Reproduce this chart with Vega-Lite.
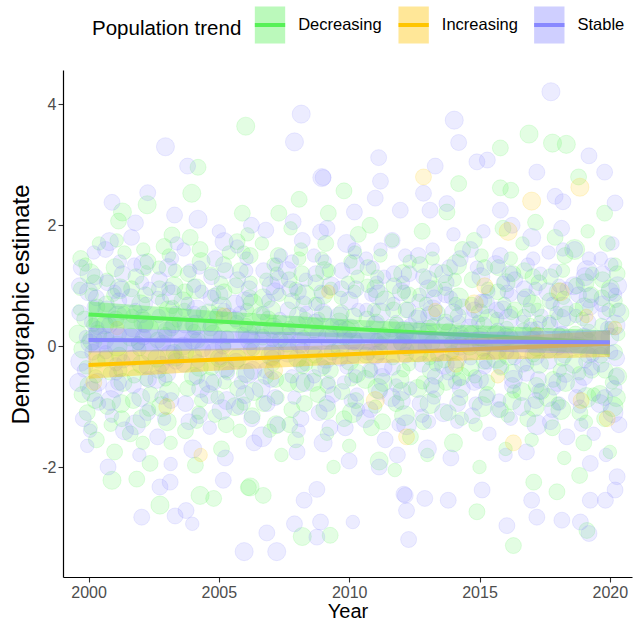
{
"$schema": "https://vega.github.io/schema/vega-lite/v6.json",
"width": 569, "height": 507,
"autosize": {"type": "none"},
"padding": {"left": 63, "top": 70, "right": 1, "bottom": 43},
"background": "white",
"datasets": {
"dec": [
{"yr":1999.7,"est":1.45,"sz":3},{"yr":2000.12,"est":0.85,"sz":2},{"yr":2000.35,"est":0.2,"sz":4},{"yr":1999.9,"est":-0.35,"sz":2},{"yr":2000.25,"est":-0.9,"sz":3},{"yr":1999.62,"est":0.6,"sz":1},{"yr":2000.05,"est":1.2,"sz":5},{"yr":2000.3,"est":-1.55,"sz":3},{"yr":1999.78,"est":-0.05,"sz":4},{"yr":2000.18,"est":0.35,"sz":2},{"yr":1999.95,"est":-1.1,"sz":3},{"yr":2000.4,"est":1.7,"sz":2},
{"yr":2001.15,"est":2.07,"sz":3},{"yr":2001.3,"est":2.22,"sz":4},{"yr":2000.9,"est":-2.22,"sz":4},{"yr":2001.85,"est":-2.2,"sz":3},{"yr":2000.7,"est":1.1,"sz":2},{"yr":2001.05,"est":0.45,"sz":3},{"yr":2001.32,"est":-0.6,"sz":4},{"yr":2000.85,"est":-1.3,"sz":2},{"yr":2001.2,"est":0.95,"sz":5},{"yr":2000.65,"est":-0.2,"sz":3},{"yr":2001.38,"est":1.55,"sz":2},{"yr":2001.0,"est":-1.75,"sz":3},{"yr":2000.78,"est":0.15,"sz":1},{"yr":2001.25,"est":-0.95,"sz":4},
{"yr":2002.25,"est":2.34,"sz":4},{"yr":2002.36,"est":-1.94,"sz":3},{"yr":2002.74,"est":-2.63,"sz":4},{"yr":2001.65,"est":0.95,"sz":3},{"yr":2002.1,"est":1.6,"sz":2},{"yr":2002.3,"est":0.3,"sz":5},{"yr":2001.75,"est":-0.5,"sz":2},{"yr":2002.05,"est":-1.2,"sz":4},{"yr":2002.38,"est":-0.8,"sz":3},{"yr":2001.9,"est":0.05,"sz":2},{"yr":2002.2,"est":1.25,"sz":1},{"yr":2001.6,"est":-1.45,"sz":3},{"yr":2002.0,"est":0.7,"sz":4},
{"yr":2003.2,"est":1.84,"sz":3},{"yr":2002.7,"est":1.3,"sz":2},{"yr":2003.05,"est":0.6,"sz":4},{"yr":2003.35,"est":-0.2,"sz":3},{"yr":2002.8,"est":-1.0,"sz":5},{"yr":2003.15,"est":-1.6,"sz":2},{"yr":2002.65,"est":0.1,"sz":3},{"yr":2003.28,"est":1.0,"sz":4},{"yr":2002.95,"est":-0.55,"sz":2},{"yr":2003.4,"est":0.4,"sz":1},{"yr":2002.9,"est":1.65,"sz":3},
{"yr":2004.2,"est":2.96,"sz":3},{"yr":2003.96,"est":2.53,"sz":4},{"yr":2004.28,"est":-2.47,"sz":4},{"yr":2004.8,"est":-2.52,"sz":3},{"yr":2004.1,"est":-1.97,"sz":3},{"yr":2003.7,"est":0.9,"sz":3},{"yr":2004.05,"est":0.25,"sz":2},{"yr":2004.32,"est":1.4,"sz":4},{"yr":2003.8,"est":-0.7,"sz":3},{"yr":2004.15,"est":-1.25,"sz":2},{"yr":2003.65,"est":-0.1,"sz":5},{"yr":2004.38,"est":0.55,"sz":2},{"yr":2003.9,"est":1.8,"sz":3},{"yr":2004.25,"est":-0.35,"sz":4},
{"yr":2005.7,"est":1.73,"sz":3},{"yr":2004.7,"est":1.2,"sz":2},{"yr":2005.0,"est":0.5,"sz":4},{"yr":2005.3,"est":-0.4,"sz":3},{"yr":2004.85,"est":-1.15,"sz":2},{"yr":2005.2,"est":0.9,"sz":3},{"yr":2004.62,"est":-0.6,"sz":5},{"yr":2005.38,"est":1.55,"sz":2},{"yr":2005.1,"est":-1.7,"sz":3},{"yr":2004.78,"est":0.2,"sz":4},{"yr":2005.25,"est":0.0,"sz":1},
{"yr":2006.03,"est":3.64,"sz":4},{"yr":2005.9,"est":2.2,"sz":3},{"yr":2006.2,"est":-2.33,"sz":4},{"yr":2006.13,"est":-2.34,"sz":3},{"yr":2006.7,"est":-2.47,"sz":3},{"yr":2005.65,"est":1.0,"sz":3},{"yr":2006.05,"est":0.35,"sz":2},{"yr":2006.35,"est":-0.75,"sz":4},{"yr":2005.8,"est":-1.4,"sz":2},{"yr":2006.2,"est":1.5,"sz":3},{"yr":2005.7,"est":-0.2,"sz":4},{"yr":2006.3,"est":0.7,"sz":5},{"yr":2005.95,"est":-0.95,"sz":2},{"yr":2006.1,"est":1.85,"sz":2},
{"yr":2007.3,"est":2.2,"sz":3},{"yr":2006.7,"est":0.8,"sz":4},{"yr":2007.1,"est":1.35,"sz":2},{"yr":2007.35,"est":0.1,"sz":3},{"yr":2006.8,"est":-0.5,"sz":3},{"yr":2007.2,"est":-1.3,"sz":4},{"yr":2006.65,"est":1.7,"sz":2},{"yr":2007.0,"est":-0.15,"sz":5},{"yr":2007.4,"est":-1.8,"sz":2},{"yr":2006.9,"est":0.45,"sz":3},{"yr":2007.25,"est":-0.85,"sz":2},
{"yr":2008.08,"est":2.43,"sz":3},{"yr":2008.2,"est":-3.15,"sz":4},{"yr":2007.7,"est":1.1,"sz":3},{"yr":2008.05,"est":0.5,"sz":4},{"yr":2008.35,"est":-0.3,"sz":2},{"yr":2007.8,"est":-1.05,"sz":3},{"yr":2008.15,"est":1.6,"sz":2},{"yr":2007.65,"est":-0.6,"sz":4},{"yr":2008.3,"est":0.85,"sz":5},{"yr":2007.95,"est":-1.55,"sz":3},{"yr":2008.25,"est":0.15,"sz":2},{"yr":2007.75,"est":1.95,"sz":2},
{"yr":2009.2,"est":2.2,"sz":3},{"yr":2009.27,"est":-3.13,"sz":3},{"yr":2009.8,"est":2.57,"sz":3},{"yr":2008.7,"est":0.7,"sz":2},{"yr":2009.05,"est":1.25,"sz":4},{"yr":2009.35,"est":-0.1,"sz":3},{"yr":2008.8,"est":-0.8,"sz":3},{"yr":2009.15,"est":-1.45,"sz":2},{"yr":2008.65,"est":0.3,"sz":5},{"yr":2009.3,"est":0.95,"sz":2},{"yr":2008.9,"est":-0.35,"sz":4},{"yr":2009.1,"est":1.7,"sz":3},{"yr":2009.4,"est":-2.0,"sz":2},
{"yr":2009.7,"est":0.55,"sz":3},{"yr":2010.05,"est":1.4,"sz":2},{"yr":2010.3,"est":-0.45,"sz":4},{"yr":2009.8,"est":-1.2,"sz":3},{"yr":2010.2,"est":0.9,"sz":2},{"yr":2009.65,"est":-0.05,"sz":4},{"yr":2010.35,"est":1.85,"sz":3},{"yr":2010.0,"est":-1.65,"sz":2},{"yr":2009.9,"est":0.25,"sz":5},{"yr":2010.25,"est":-0.9,"sz":3},
{"yr":2010.7,"est":1.0,"sz":2},{"yr":2011.05,"est":0.4,"sz":3},{"yr":2011.3,"est":-0.6,"sz":4},{"yr":2010.85,"est":-1.35,"sz":3},{"yr":2011.2,"est":1.5,"sz":2},{"yr":2010.65,"est":-0.15,"sz":3},{"yr":2011.38,"est":0.75,"sz":5},{"yr":2011.0,"est":-1.0,"sz":2},{"yr":2010.8,"est":2.0,"sz":3},{"yr":2011.15,"est":-1.9,"sz":4},
{"yr":2011.7,"est":0.6,"sz":3},{"yr":2012.05,"est":1.2,"sz":4},{"yr":2012.3,"est":-0.3,"sz":2},{"yr":2011.8,"est":-0.95,"sz":3},{"yr":2012.2,"est":0.2,"sz":5},{"yr":2011.65,"est":1.75,"sz":2},{"yr":2012.35,"est":-1.5,"sz":3},{"yr":2011.95,"est":-0.55,"sz":4},{"yr":2012.1,"est":0.9,"sz":2},{"yr":2011.75,"est":-2.05,"sz":2},
{"yr":2012.7,"est":0.85,"sz":2},{"yr":2013.05,"est":0.3,"sz":3},{"yr":2013.3,"est":-0.7,"sz":4},{"yr":2012.85,"est":-1.25,"sz":3},{"yr":2013.2,"est":1.45,"sz":2},{"yr":2012.65,"est":-0.1,"sz":5},{"yr":2013.38,"est":0.55,"sz":3},{"yr":2013.0,"est":-1.8,"sz":2},{"yr":2012.8,"est":1.9,"sz":3},{"yr":2013.15,"est":-0.4,"sz":4},
{"yr":2014.2,"est":2.69,"sz":3},{"yr":2013.75,"est":2.22,"sz":3},{"yr":2014.9,"est":-2.74,"sz":3},{"yr":2013.7,"est":0.4,"sz":3},{"yr":2014.05,"est":1.1,"sz":2},{"yr":2014.3,"est":-0.5,"sz":4},{"yr":2013.8,"est":-1.1,"sz":3},{"yr":2014.2,"est":0.8,"sz":5},{"yr":2013.65,"est":-0.25,"sz":2},{"yr":2014.35,"est":1.6,"sz":3},{"yr":2014.0,"est":-1.6,"sz":4},{"yr":2013.9,"est":0.05,"sz":2},{"yr":2014.25,"est":-0.85,"sz":3},
{"yr":2015.8,"est":3.28,"sz":3},{"yr":2015.8,"est":2.62,"sz":3},{"yr":2014.7,"est":0.7,"sz":2},{"yr":2015.05,"est":0.15,"sz":4},{"yr":2015.3,"est":-0.8,"sz":3},{"yr":2014.85,"est":-1.3,"sz":2},{"yr":2015.2,"est":1.3,"sz":3},{"yr":2014.65,"est":-0.35,"sz":4},{"yr":2015.38,"est":0.45,"sz":5},{"yr":2015.0,"est":-2.0,"sz":2},{"yr":2014.8,"est":1.75,"sz":3},{"yr":2015.15,"est":-0.1,"sz":2},
{"yr":2016.9,"est":3.51,"sz":4},{"yr":2016.2,"est":2.58,"sz":3},{"yr":2016.3,"est":-3.3,"sz":3},{"yr":2015.7,"est":0.9,"sz":3},{"yr":2016.05,"est":0.3,"sz":2},{"yr":2016.3,"est":-0.45,"sz":4},{"yr":2015.8,"est":-1.05,"sz":3},{"yr":2016.2,"est":1.45,"sz":2},{"yr":2015.65,"est":-0.2,"sz":5},{"yr":2016.35,"est":0.6,"sz":3},{"yr":2016.0,"est":-1.7,"sz":2},{"yr":2015.9,"est":1.95,"sz":3},{"yr":2016.25,"est":-0.9,"sz":4},
{"yr":2017.8,"est":3.36,"sz":4},{"yr":2017.08,"est":-2.25,"sz":3},{"yr":2017.97,"est":-2.41,"sz":3},{"yr":2016.7,"est":0.5,"sz":2},{"yr":2017.05,"est":1.15,"sz":3},{"yr":2017.3,"est":-0.3,"sz":4},{"yr":2016.85,"est":-1.2,"sz":3},{"yr":2017.2,"est":0.0,"sz":5},{"yr":2016.65,"est":1.7,"sz":2},{"yr":2017.38,"est":-0.75,"sz":3},{"yr":2017.0,"est":-1.55,"sz":2},{"yr":2016.8,"est":0.8,"sz":4},{"yr":2017.15,"est":2.05,"sz":3},
{"yr":2018.33,"est":3.34,"sz":4},{"yr":2018.8,"est":2.8,"sz":3},{"yr":2018.84,"est":-2.14,"sz":3},{"yr":2017.7,"est":0.75,"sz":3},{"yr":2018.05,"est":0.2,"sz":2},{"yr":2018.3,"est":-0.6,"sz":4},{"yr":2017.8,"est":-1.35,"sz":3},{"yr":2018.2,"est":1.25,"sz":2},{"yr":2017.65,"est":-0.05,"sz":4},{"yr":2018.35,"est":0.5,"sz":5},{"yr":2018.0,"est":-0.95,"sz":2},{"yr":2017.9,"est":1.8,"sz":3},{"yr":2018.25,"est":-1.85,"sz":2},
{"yr":2019.8,"est":2.2,"sz":3},{"yr":2019.12,"est":-3.05,"sz":3},{"yr":2018.7,"est":0.6,"sz":2},{"yr":2019.05,"est":1.05,"sz":4},{"yr":2019.3,"est":-0.4,"sz":3},{"yr":2018.85,"est":-1.1,"sz":3},{"yr":2019.2,"est":0.25,"sz":2},{"yr":2018.65,"est":1.6,"sz":5},{"yr":2019.38,"est":-0.8,"sz":2},{"yr":2019.0,"est":-1.6,"sz":3},{"yr":2018.8,"est":0.0,"sz":4},{"yr":2019.15,"est":1.9,"sz":2},
{"yr":2019.7,"est":0.8,"sz":3},{"yr":2020.05,"est":0.3,"sz":2},{"yr":2020.3,"est":-0.5,"sz":4},{"yr":2019.8,"est":-1.2,"sz":3},{"yr":2020.2,"est":1.35,"sz":2},{"yr":2019.65,"est":-0.15,"sz":3},{"yr":2020.35,"est":0.55,"sz":5},{"yr":2020.0,"est":-1.75,"sz":2},{"yr":2019.9,"est":1.7,"sz":3},{"yr":2020.25,"est":-0.85,"sz":4},
{"yr":1999.68,"est":0.95,"sz":2},{"yr":1999.85,"est":0.45,"sz":3},{"yr":2000.02,"est":-0.65,"sz":4},{"yr":2000.22,"est":1.05,"sz":3},{"yr":2000.38,"est":-0.25,"sz":2},{"yr":1999.75,"est":-0.8,"sz":3},{"yr":2000.15,"est":0.1,"sz":5},{"yr":1999.88,"est":1.35,"sz":2},{"yr":2000.32,"est":0.65,"sz":3},{"yr":2000.08,"est":-1.35,"sz":2},{"yr":1999.6,"est":0.2,"sz":4},{"yr":2000.28,"est":-0.5,"sz":2},
{"yr":2000.68,"est":0.7,"sz":3},{"yr":2000.82,"est":-0.45,"sz":2},{"yr":2001.02,"est":1.3,"sz":4},{"yr":2001.18,"est":-0.15,"sz":3},{"yr":2001.35,"est":0.55,"sz":2},{"yr":2000.72,"est":-1.0,"sz":3},{"yr":2001.1,"est":0.0,"sz":5},{"yr":2000.95,"est":0.85,"sz":2},{"yr":2001.28,"est":-1.2,"sz":3},{"yr":2001.08,"est":1.75,"sz":2},{"yr":2000.62,"est":0.35,"sz":4},{"yr":2001.22,"est":-0.4,"sz":2},
{"yr":2001.68,"est":0.5,"sz":2},{"yr":2001.82,"est":1.15,"sz":3},{"yr":2002.02,"est":-0.3,"sz":4},{"yr":2002.18,"est":0.85,"sz":3},{"yr":2002.32,"est":-1.05,"sz":2},{"yr":2001.72,"est":-0.9,"sz":3},{"yr":2002.12,"est":0.4,"sz":5},{"yr":2001.95,"est":-0.05,"sz":2},{"yr":2002.28,"est":1.4,"sz":3},{"yr":2002.08,"est":-1.6,"sz":2},{"yr":2001.62,"est":0.15,"sz":4},{"yr":2002.22,"est":-0.55,"sz":2},
{"yr":2002.68,"est":-0.4,"sz":3},{"yr":2002.82,"est":0.75,"sz":2},{"yr":2003.02,"est":-1.25,"sz":4},{"yr":2003.18,"est":0.3,"sz":3},{"yr":2003.32,"est":1.25,"sz":2},{"yr":2002.72,"est":0.95,"sz":3},{"yr":2003.1,"est":-0.75,"sz":5},{"yr":2002.95,"est":0.2,"sz":2},{"yr":2003.28,"est":-0.1,"sz":3},{"yr":2003.08,"est":1.5,"sz":2},{"yr":2002.62,"est":-0.2,"sz":4},{"yr":2003.22,"est":0.65,"sz":2},
{"yr":2003.68,"est":0.6,"sz":2},{"yr":2003.82,"est":1.2,"sz":3},{"yr":2004.02,"est":-0.5,"sz":4},{"yr":2004.18,"est":0.1,"sz":3},{"yr":2004.32,"est":-0.9,"sz":2},{"yr":2003.72,"est":-1.4,"sz":3},{"yr":2004.12,"est":0.95,"sz":5},{"yr":2003.95,"est":0.35,"sz":2},{"yr":2004.28,"est":1.6,"sz":3},{"yr":2004.08,"est":-0.15,"sz":2},{"yr":2003.62,"est":0.75,"sz":4},{"yr":2004.22,"est":-1.1,"sz":2},
{"yr":2004.68,"est":0.3,"sz":3},{"yr":2004.82,"est":0.85,"sz":2},{"yr":2005.02,"est":-0.2,"sz":4},{"yr":2005.18,"est":1.35,"sz":3},{"yr":2005.32,"est":0.15,"sz":2},{"yr":2004.72,"est":-0.35,"sz":3},{"yr":2005.1,"est":0.65,"sz":5},{"yr":2004.95,"est":-0.85,"sz":2},{"yr":2005.28,"est":-1.3,"sz":3},{"yr":2005.08,"est":1.05,"sz":2},{"yr":2004.62,"est":0.55,"sz":4},{"yr":2005.22,"est":-0.6,"sz":2},
{"yr":2005.68,"est":0.4,"sz":2},{"yr":2005.82,"est":1.25,"sz":3},{"yr":2006.02,"est":-0.45,"sz":4},{"yr":2006.18,"est":0.8,"sz":3},{"yr":2006.32,"est":-0.05,"sz":2},{"yr":2005.72,"est":-0.7,"sz":3},{"yr":2006.12,"est":0.2,"sz":5},{"yr":2005.95,"est":1.55,"sz":2},{"yr":2006.28,"est":-1.15,"sz":3},{"yr":2006.08,"est":0.6,"sz":2},{"yr":2005.62,"est":-1.0,"sz":4},{"yr":2006.22,"est":1.05,"sz":2},
{"yr":2006.68,"est":0.15,"sz":3},{"yr":2006.82,"est":1.1,"sz":2},{"yr":2007.02,"est":0.6,"sz":4},{"yr":2007.18,"est":-0.55,"sz":3},{"yr":2007.32,"est":0.85,"sz":2},{"yr":2006.72,"est":-0.95,"sz":3},{"yr":2007.1,"est":0.3,"sz":5},{"yr":2006.95,"est":-1.4,"sz":2},{"yr":2007.28,"est":1.5,"sz":3},{"yr":2007.08,"est":-0.3,"sz":2},{"yr":2006.62,"est":0.5,"sz":4},{"yr":2007.22,"est":1.2,"sz":2},
{"yr":2007.68,"est":0.3,"sz":2},{"yr":2007.82,"est":0.75,"sz":3},{"yr":2008.02,"est":-0.2,"sz":4},{"yr":2008.18,"est":1.2,"sz":3},{"yr":2008.32,"est":0.45,"sz":2},{"yr":2007.72,"est":-1.3,"sz":3},{"yr":2008.12,"est":-0.6,"sz":5},{"yr":2007.95,"est":0.95,"sz":2},{"yr":2008.28,"est":-0.95,"sz":3},{"yr":2008.08,"est":1.45,"sz":2},{"yr":2007.62,"est":0.05,"sz":4},{"yr":2008.22,"est":-0.35,"sz":2},
{"yr":2008.68,"est":-0.15,"sz":3},{"yr":2008.82,"est":0.45,"sz":2},{"yr":2009.02,"est":0.85,"sz":4},{"yr":2009.18,"est":-0.65,"sz":3},{"yr":2009.32,"est":0.2,"sz":2},{"yr":2008.72,"est":1.05,"sz":3},{"yr":2009.1,"est":-1.05,"sz":5},{"yr":2008.95,"est":1.45,"sz":2},{"yr":2009.28,"est":-0.4,"sz":3},{"yr":2009.08,"est":0.55,"sz":2},{"yr":2008.62,"est":-0.6,"sz":4},{"yr":2009.22,"est":1.25,"sz":2},
{"yr":2009.68,"est":0.8,"sz":2},{"yr":2009.82,"est":0.15,"sz":3},{"yr":2010.02,"est":-0.25,"sz":4},{"yr":2010.18,"est":0.5,"sz":3},{"yr":2010.32,"est":1.15,"sz":2},{"yr":2009.72,"est":-0.75,"sz":3},{"yr":2010.12,"est":-1.1,"sz":5},{"yr":2009.95,"est":1.05,"sz":2},{"yr":2010.28,"est":0.05,"sz":3},{"yr":2010.08,"est":-0.55,"sz":2},{"yr":2009.62,"est":0.4,"sz":4},{"yr":2010.22,"est":1.55,"sz":2},
{"yr":2010.68,"est":0.45,"sz":3},{"yr":2010.82,"est":-0.4,"sz":2},{"yr":2011.02,"est":0.95,"sz":4},{"yr":2011.18,"est":-0.1,"sz":3},{"yr":2011.32,"est":0.2,"sz":2},{"yr":2010.72,"est":1.3,"sz":3},{"yr":2011.1,"est":-0.7,"sz":5},{"yr":2010.95,"est":0.6,"sz":2},{"yr":2011.28,"est":-1.25,"sz":3},{"yr":2011.08,"est":1.15,"sz":2},{"yr":2010.62,"est":-0.55,"sz":4},{"yr":2011.22,"est":0.05,"sz":2},
{"yr":2011.68,"est":-0.2,"sz":2},{"yr":2011.82,"est":0.35,"sz":3},{"yr":2012.02,"est":-0.75,"sz":4},{"yr":2012.18,"est":0.6,"sz":3},{"yr":2012.32,"est":1.4,"sz":2},{"yr":2011.72,"est":1.0,"sz":3},{"yr":2012.12,"est":-1.15,"sz":5},{"yr":2011.95,"est":0.05,"sz":2},{"yr":2012.28,"est":0.85,"sz":3},{"yr":2012.08,"est":-0.4,"sz":2},{"yr":2011.62,"est":0.3,"sz":4},{"yr":2012.22,"est":-0.05,"sz":2},
{"yr":2012.68,"est":0.5,"sz":3},{"yr":2012.82,"est":-0.6,"sz":2},{"yr":2013.02,"est":1.1,"sz":4},{"yr":2013.18,"est":0.05,"sz":3},{"yr":2013.32,"est":-0.3,"sz":2},{"yr":2012.72,"est":1.35,"sz":3},{"yr":2013.1,"est":-0.95,"sz":5},{"yr":2012.95,"est":0.7,"sz":2},{"yr":2013.28,"est":0.95,"sz":3},{"yr":2013.08,"est":-0.2,"sz":2},{"yr":2012.62,"est":-0.7,"sz":4},{"yr":2013.22,"est":0.35,"sz":2},
{"yr":2013.68,"est":0.95,"sz":2},{"yr":2013.82,"est":0.25,"sz":3},{"yr":2014.02,"est":-0.35,"sz":4},{"yr":2014.18,"est":0.5,"sz":3},{"yr":2014.32,"est":-1.2,"sz":2},{"yr":2013.72,"est":-0.6,"sz":3},{"yr":2014.12,"est":1.35,"sz":5},{"yr":2013.95,"est":-0.1,"sz":2},{"yr":2014.28,"est":0.2,"sz":3},{"yr":2014.08,"est":0.7,"sz":2},{"yr":2013.62,"est":1.2,"sz":4},{"yr":2014.22,"est":-0.55,"sz":2},
{"yr":2014.68,"est":0.2,"sz":3},{"yr":2014.82,"est":-0.5,"sz":2},{"yr":2015.02,"est":0.55,"sz":4},{"yr":2015.18,"est":-0.25,"sz":3},{"yr":2015.32,"est":0.95,"sz":2},{"yr":2014.72,"est":1.1,"sz":3},{"yr":2015.1,"est":-1.0,"sz":5},{"yr":2014.95,"est":0.4,"sz":2},{"yr":2015.28,"est":-0.6,"sz":3},{"yr":2015.08,"est":1.5,"sz":2},{"yr":2014.62,"est":0.0,"sz":4},{"yr":2015.22,"est":0.75,"sz":2},
{"yr":2015.68,"est":0.45,"sz":2},{"yr":2015.82,"est":-0.35,"sz":3},{"yr":2016.02,"est":1.05,"sz":4},{"yr":2016.18,"est":0.15,"sz":3},{"yr":2016.32,"est":-0.75,"sz":2},{"yr":2015.72,"est":1.3,"sz":3},{"yr":2016.12,"est":-0.15,"sz":5},{"yr":2015.95,"est":0.7,"sz":2},{"yr":2016.28,"est":1.2,"sz":3},{"yr":2016.08,"est":-1.15,"sz":2},{"yr":2015.62,"est":0.2,"sz":4},{"yr":2016.22,"est":0.55,"sz":2},
{"yr":2016.68,"est":0.25,"sz":3},{"yr":2016.82,"est":-0.3,"sz":2},{"yr":2017.02,"est":0.7,"sz":4},{"yr":2017.18,"est":-0.65,"sz":3},{"yr":2017.32,"est":0.4,"sz":2},{"yr":2016.72,"est":1.25,"sz":3},{"yr":2017.1,"est":-1.0,"sz":5},{"yr":2016.95,"est":0.35,"sz":2},{"yr":2017.28,"est":1.05,"sz":3},{"yr":2017.08,"est":-0.15,"sz":2},{"yr":2016.62,"est":-0.75,"sz":4},{"yr":2017.22,"est":0.6,"sz":2},
{"yr":2017.68,"est":0.4,"sz":2},{"yr":2017.82,"est":-0.55,"sz":3},{"yr":2018.02,"est":0.9,"sz":4},{"yr":2018.18,"est":-0.2,"sz":3},{"yr":2018.32,"est":0.15,"sz":2},{"yr":2017.72,"est":1.15,"sz":3},{"yr":2018.12,"est":-1.05,"sz":5},{"yr":2017.95,"est":0.55,"sz":2},{"yr":2018.28,"est":1.5,"sz":3},{"yr":2018.08,"est":-0.4,"sz":2},{"yr":2017.62,"est":-0.85,"sz":4},{"yr":2018.22,"est":0.8,"sz":2},
{"yr":2018.68,"est":0.2,"sz":3},{"yr":2018.82,"est":-0.45,"sz":2},{"yr":2019.02,"est":0.65,"sz":4},{"yr":2019.18,"est":-0.15,"sz":3},{"yr":2019.32,"est":1.2,"sz":2},{"yr":2018.72,"est":1.0,"sz":3},{"yr":2019.1,"est":-0.85,"sz":5},{"yr":2018.95,"est":0.45,"sz":2},{"yr":2019.28,"est":0.85,"sz":3},{"yr":2019.08,"est":-1.25,"sz":2},{"yr":2018.62,"est":-0.3,"sz":4},{"yr":2019.22,"est":0.1,"sz":2},
{"yr":2019.68,"est":0.35,"sz":2},{"yr":2019.82,"est":-0.4,"sz":3},{"yr":2020.02,"est":0.95,"sz":4},{"yr":2020.18,"est":-0.1,"sz":3},{"yr":2020.32,"est":0.2,"sz":2},{"yr":2019.72,"est":1.1,"sz":3},{"yr":2020.12,"est":-1.0,"sz":5},{"yr":2019.95,"est":0.6,"sz":2},{"yr":2020.28,"est":1.2,"sz":3},{"yr":2020.08,"est":-0.6,"sz":2},{"yr":2019.62,"est":-0.8,"sz":4},{"yr":2020.22,"est":0.75,"sz":2}
],
"sta": [
{"yr":1999.65,"est":1.0,"sz":3},{"yr":2000.1,"est":0.4,"sz":2},{"yr":2000.35,"est":-0.6,"sz":4},{"yr":1999.8,"est":-1.2,"sz":3},{"yr":2000.2,"est":1.55,"sz":2},{"yr":1999.7,"est":-0.25,"sz":5},{"yr":2000.3,"est":0.8,"sz":3},{"yr":1999.95,"est":-1.65,"sz":2},{"yr":2000.05,"est":0.05,"sz":4},{"yr":2000.4,"est":-0.95,"sz":2},{"yr":2000.9,"est":2.38,"sz":3},{"yr":2000.8,"est":1.73,"sz":4},
{"yr":2001.8,"est":2.04,"sz":3},{"yr":2000.7,"est":0.6,"sz":4},{"yr":2001.05,"est":-0.3,"sz":2},{"yr":2001.3,"est":1.2,"sz":3},{"yr":2000.85,"est":-0.9,"sz":5},{"yr":2001.2,"est":0.2,"sz":2},{"yr":2000.65,"est":1.6,"sz":3},{"yr":2001.38,"est":-1.4,"sz":4},{"yr":2001.0,"est":0.9,"sz":2},{"yr":2000.75,"est":-2.0,"sz":3},{"yr":2001.15,"est":-0.6,"sz":3},
{"yr":2002.27,"est":2.54,"sz":3},{"yr":2002.74,"est":-2.33,"sz":3},{"yr":2002.04,"est":-2.83,"sz":3},{"yr":2001.7,"est":0.3,"sz":4},{"yr":2002.05,"est":1.05,"sz":2},{"yr":2002.3,"est":-0.55,"sz":3},{"yr":2001.8,"est":-1.3,"sz":5},{"yr":2002.2,"est":0.7,"sz":2},{"yr":2001.65,"est":1.8,"sz":3},{"yr":2002.35,"est":-0.1,"sz":4},{"yr":2001.95,"est":-1.8,"sz":2},{"yr":2002.1,"est":0.15,"sz":3},{"yr":2001.75,"est":1.35,"sz":2},
{"yr":2002.95,"est":3.3,"sz":4},{"yr":2003.3,"est":2.17,"sz":3},{"yr":2003.13,"est":-2.25,"sz":3},{"yr":2003.32,"est":-2.81,"sz":3},{"yr":2002.7,"est":0.5,"sz":2},{"yr":2003.05,"est":1.3,"sz":4},{"yr":2003.35,"est":-0.25,"sz":3},{"yr":2002.8,"est":-0.85,"sz":2},{"yr":2003.2,"est":0.85,"sz":5},{"yr":2002.65,"est":-1.5,"sz":3},{"yr":2003.38,"est":1.7,"sz":2},{"yr":2003.0,"est":-0.45,"sz":4},{"yr":2002.85,"est":0.05,"sz":3},{"yr":2003.15,"est":-1.95,"sz":2},
{"yr":2003.8,"est":2.98,"sz":3},{"yr":2004.2,"est":2.1,"sz":4},{"yr":2003.74,"est":-2.72,"sz":3},{"yr":2003.98,"est":-2.94,"sz":2},{"yr":2003.7,"est":0.35,"sz":3},{"yr":2004.05,"est":1.0,"sz":2},{"yr":2004.3,"est":-0.7,"sz":4},{"yr":2003.85,"est":-1.25,"sz":3},{"yr":2004.15,"est":0.6,"sz":5},{"yr":2003.65,"est":1.6,"sz":2},{"yr":2004.38,"est":-0.05,"sz":3},{"yr":2004.0,"est":-1.7,"sz":4},{"yr":2004.25,"est":1.3,"sz":2},
{"yr":2005.2,"est":1.73,"sz":4},{"yr":2005.17,"est":-2.22,"sz":3},{"yr":2004.7,"est":0.8,"sz":3},{"yr":2005.05,"est":0.15,"sz":2},{"yr":2005.3,"est":-0.9,"sz":4},{"yr":2004.85,"est":1.45,"sz":3},{"yr":2005.2,"est":-0.35,"sz":5},{"yr":2004.65,"est":-1.35,"sz":2},{"yr":2005.38,"est":0.5,"sz":3},{"yr":2005.0,"est":1.9,"sz":2},{"yr":2004.8,"est":-0.1,"sz":4},{"yr":2005.25,"est":-1.85,"sz":3},
{"yr":2005.97,"est":-3.4,"sz":4},{"yr":2005.65,"est":0.45,"sz":3},{"yr":2006.05,"est":1.25,"sz":2},{"yr":2006.3,"est":-0.4,"sz":4},{"yr":2005.8,"est":-1.0,"sz":3},{"yr":2006.2,"est":0.1,"sz":5},{"yr":2005.7,"est":1.65,"sz":2},{"yr":2006.35,"est":-1.6,"sz":3},{"yr":2006.0,"est":0.75,"sz":4},{"yr":2005.85,"est":-0.6,"sz":2},{"yr":2006.25,"est":2.0,"sz":3},
{"yr":2006.84,"est":-3.09,"sz":3},{"yr":2006.8,"est":1.92,"sz":3},{"yr":2007.22,"est":-3.4,"sz":4},{"yr":2006.7,"est":0.55,"sz":2},{"yr":2007.05,"est":-0.2,"sz":3},{"yr":2007.3,"est":1.1,"sz":4},{"yr":2006.85,"est":-0.95,"sz":3},{"yr":2007.2,"est":0.3,"sz":2},{"yr":2006.65,"est":-1.5,"sz":5},{"yr":2007.38,"est":1.5,"sz":2},{"yr":2007.0,"est":-0.55,"sz":3},{"yr":2007.15,"est":0.9,"sz":4},
{"yr":2007.9,"est":3.38,"sz":4},{"yr":2007.85,"est":2.06,"sz":3},{"yr":2007.9,"est":-2.94,"sz":3},{"yr":2008.16,"est":3.84,"sz":4},{"yr":2008.9,"est":1.89,"sz":3},{"yr":2008.95,"est":2.79,"sz":4},{"yr":2008.76,"est":-2.37,"sz":3},{"yr":2008.27,"est":-2.55,"sz":3},{"yr":2008.9,"est":-2.91,"sz":3},{"yr":2008.76,"est":-3.16,"sz":3},{"yr":2007.7,"est":0.2,"sz":2},{"yr":2008.05,"est":0.9,"sz":3},{"yr":2008.3,"est":-0.6,"sz":4},{"yr":2007.8,"est":1.4,"sz":2},{"yr":2008.15,"est":-1.2,"sz":3},{"yr":2007.65,"est":-0.1,"sz":5},{"yr":2008.35,"est":0.55,"sz":2},{"yr":2008.0,"est":-1.75,"sz":3},{"yr":2008.2,"est":1.75,"sz":3},
{"yr":2009.0,"est":2.79,"sz":3},{"yr":2008.7,"est":0.4,"sz":3},{"yr":2009.05,"est":-0.35,"sz":2},{"yr":2009.3,"est":1.0,"sz":4},{"yr":2008.85,"est":-1.1,"sz":3},{"yr":2009.2,"est":0.15,"sz":5},{"yr":2008.65,"est":1.5,"sz":2},{"yr":2009.38,"est":-0.8,"sz":3},{"yr":2009.0,"est":-1.6,"sz":4},{"yr":2008.8,"est":0.7,"sz":2},{"yr":2009.15,"est":1.95,"sz":3},
{"yr":2010.2,"est":2.22,"sz":3},{"yr":2010.14,"est":-2.91,"sz":2},{"yr":2009.7,"est":0.95,"sz":3},{"yr":2010.05,"est":0.3,"sz":4},{"yr":2010.3,"est":-0.8,"sz":2},{"yr":2009.85,"est":-1.35,"sz":3},{"yr":2010.2,"est":1.35,"sz":5},{"yr":2009.65,"est":-0.2,"sz":3},{"yr":2010.35,"est":0.6,"sz":2},{"yr":2010.0,"est":-1.9,"sz":3},{"yr":2009.9,"est":1.7,"sz":4},{"yr":2010.25,"est":-0.5,"sz":2},
{"yr":2011.13,"est":3.12,"sz":3},{"yr":2011.2,"est":2.73,"sz":3},{"yr":2011.0,"est":2.45,"sz":3},{"yr":2010.7,"est":0.2,"sz":3},{"yr":2011.05,"est":1.05,"sz":2},{"yr":2011.3,"est":-0.35,"sz":4},{"yr":2010.8,"est":-1.05,"sz":3},{"yr":2011.2,"est":0.55,"sz":5},{"yr":2010.65,"est":1.45,"sz":2},{"yr":2011.38,"est":-1.55,"sz":3},{"yr":2011.0,"est":-0.15,"sz":4},{"yr":2010.85,"est":0.85,"sz":2},{"yr":2011.15,"est":-2.0,"sz":3},
{"yr":2011.96,"est":2.25,"sz":3},{"yr":2012.1,"est":-2.45,"sz":3},{"yr":2012.2,"est":-2.72,"sz":3},{"yr":2012.28,"est":-3.2,"sz":3},{"yr":2012.15,"est":-2.47,"sz":3},{"yr":2011.7,"est":0.7,"sz":2},{"yr":2012.05,"est":0.05,"sz":4},{"yr":2012.3,"est":1.2,"sz":3},{"yr":2011.8,"est":-0.65,"sz":2},{"yr":2012.2,"est":-1.3,"sz":5},{"yr":2011.65,"est":1.75,"sz":3},{"yr":2012.35,"est":0.35,"sz":2},{"yr":2012.0,"est":-0.9,"sz":4},{"yr":2011.85,"est":-1.8,"sz":3},{"yr":2012.15,"est":1.5,"sz":2},
{"yr":2013.3,"est":2.98,"sz":3},{"yr":2012.85,"est":2.53,"sz":3},{"yr":2013.1,"est":2.25,"sz":3},{"yr":2012.9,"est":-2.52,"sz":3},{"yr":2012.7,"est":0.3,"sz":2},{"yr":2013.05,"est":0.95,"sz":4},{"yr":2013.3,"est":-0.5,"sz":3},{"yr":2012.8,"est":-1.15,"sz":2},{"yr":2013.2,"est":0.6,"sz":5},{"yr":2012.65,"est":1.5,"sz":3},{"yr":2013.38,"est":-0.15,"sz":2},{"yr":2013.0,"est":-1.7,"sz":4},{"yr":2012.85,"est":1.15,"sz":3},{"yr":2013.25,"est":-0.85,"sz":2},
{"yr":2014.03,"est":3.74,"sz":4},{"yr":2014.2,"est":3.37,"sz":3},{"yr":2013.75,"est":2.36,"sz":3},{"yr":2013.8,"est":-2.55,"sz":3},{"yr":2013.7,"est":0.85,"sz":3},{"yr":2014.05,"est":0.2,"sz":2},{"yr":2014.3,"est":-0.7,"sz":4},{"yr":2013.85,"est":1.3,"sz":3},{"yr":2014.15,"est":-1.25,"sz":2},{"yr":2013.65,"est":-0.3,"sz":5},{"yr":2014.35,"est":0.65,"sz":3},{"yr":2014.0,"est":1.85,"sz":2},{"yr":2013.9,"est":-1.85,"sz":3},{"yr":2014.25,"est":0.0,"sz":4},
{"yr":2015.3,"est":3.08,"sz":3},{"yr":2014.9,"est":3.05,"sz":3},{"yr":2015.8,"est":2.25,"sz":3},{"yr":2015.1,"est":-2.38,"sz":3},{"yr":2014.7,"est":0.45,"sz":2},{"yr":2015.05,"est":1.15,"sz":4},{"yr":2015.3,"est":-0.25,"sz":3},{"yr":2014.85,"est":-0.95,"sz":2},{"yr":2015.2,"est":0.7,"sz":5},{"yr":2014.65,"est":1.6,"sz":3},{"yr":2015.38,"est":-1.45,"sz":2},{"yr":2015.0,"est":0.1,"sz":4},{"yr":2014.8,"est":-0.6,"sz":3},{"yr":2015.15,"est":1.9,"sz":2},
{"yr":2016.05,"est":-2.97,"sz":3},{"yr":2015.7,"est":0.25,"sz":3},{"yr":2016.05,"est":0.9,"sz":2},{"yr":2016.3,"est":-0.55,"sz":4},{"yr":2015.8,"est":1.5,"sz":3},{"yr":2016.2,"est":-1.2,"sz":2},{"yr":2015.65,"est":-0.05,"sz":5},{"yr":2016.35,"est":1.1,"sz":3},{"yr":2016.0,"est":-1.8,"sz":2},{"yr":2015.9,"est":0.6,"sz":4},{"yr":2016.25,"est":2.0,"sz":3},{"yr":2015.75,"est":-0.9,"sz":2},
{"yr":2017.74,"est":4.21,"sz":4},{"yr":2017.2,"est":2.88,"sz":3},{"yr":2017.9,"est":2.48,"sz":3},{"yr":2017.0,"est":-2.55,"sz":3},{"yr":2017.2,"est":-2.83,"sz":3},{"yr":2016.7,"est":0.8,"sz":2},{"yr":2017.05,"est":0.1,"sz":4},{"yr":2017.3,"est":-0.75,"sz":3},{"yr":2016.85,"est":1.35,"sz":2},{"yr":2017.2,"est":-1.3,"sz":5},{"yr":2016.65,"est":-0.3,"sz":3},{"yr":2017.38,"est":0.5,"sz":2},{"yr":2017.0,"est":1.8,"sz":4},{"yr":2016.8,"est":-1.75,"sz":3},{"yr":2017.15,"est":0.95,"sz":2},
{"yr":2018.2,"est":2.39,"sz":3},{"yr":2018.16,"est":-2.88,"sz":3},{"yr":2018.87,"est":-2.91,"sz":3},{"yr":2017.7,"est":0.35,"sz":3},{"yr":2018.05,"est":1.0,"sz":2},{"yr":2018.3,"est":-0.45,"sz":4},{"yr":2017.8,"est":-1.05,"sz":3},{"yr":2018.2,"est":0.65,"sz":5},{"yr":2017.65,"est":1.55,"sz":2},{"yr":2018.35,"est":-1.5,"sz":3},{"yr":2018.0,"est":0.0,"sz":4},{"yr":2017.85,"est":-0.7,"sz":2},{"yr":2018.15,"est":1.95,"sz":3},
{"yr":2019.2,"est":3.15,"sz":3},{"yr":2019.8,"est":2.88,"sz":3},{"yr":2019.25,"est":-1.94,"sz":3},{"yr":2019.25,"est":-2.55,"sz":3},{"yr":2019.83,"est":-2.55,"sz":3},{"yr":2019.2,"est":-3.1,"sz":3},{"yr":2018.7,"est":0.5,"sz":2},{"yr":2019.05,"est":1.15,"sz":4},{"yr":2019.3,"est":-0.35,"sz":3},{"yr":2018.85,"est":-1.0,"sz":2},{"yr":2019.2,"est":0.8,"sz":5},{"yr":2018.65,"est":1.6,"sz":3},{"yr":2019.38,"est":-1.45,"sz":2},{"yr":2019.0,"est":0.15,"sz":4},{"yr":2018.8,"est":-0.65,"sz":3},
{"yr":2020.2,"est":2.37,"sz":3},{"yr":2020.28,"est":-2.16,"sz":3},{"yr":2020.2,"est":-2.38,"sz":3},{"yr":2019.7,"est":0.7,"sz":3},{"yr":2020.05,"est":-0.1,"sz":2},{"yr":2020.3,"est":1.0,"sz":4},{"yr":2019.8,"est":-0.85,"sz":3},{"yr":2020.2,"est":0.35,"sz":5},{"yr":2019.65,"est":1.45,"sz":2},{"yr":2020.35,"est":-1.3,"sz":3},{"yr":2020.0,"est":0.9,"sz":4},{"yr":2019.85,"est":-1.8,"sz":2},{"yr":2020.25,"est":-0.5,"sz":3},{"yr":2020.1,"est":1.7,"sz":2},
{"yr":1999.66,"est":0.55,"sz":3},{"yr":1999.82,"est":-0.4,"sz":2},{"yr":2000.0,"est":0.9,"sz":4},{"yr":2000.16,"est":-0.1,"sz":3},{"yr":2000.34,"est":0.3,"sz":2},{"yr":1999.72,"est":1.3,"sz":3},{"yr":2000.12,"est":-0.75,"sz":5},{"yr":1999.9,"est":0.15,"sz":2},{"yr":2000.26,"est":1.15,"sz":3},{"yr":2000.06,"est":-1.4,"sz":2},{"yr":1999.62,"est":-0.6,"sz":4},{"yr":2000.2,"est":0.65,"sz":2},
{"yr":2000.66,"est":-0.1,"sz":2},{"yr":2000.8,"est":0.35,"sz":3},{"yr":2001.0,"est":-0.7,"sz":4},{"yr":2001.16,"est":0.75,"sz":3},{"yr":2001.34,"est":-0.25,"sz":2},{"yr":2000.72,"est":1.05,"sz":3},{"yr":2001.12,"est":0.5,"sz":5},{"yr":2000.9,"est":-1.15,"sz":2},{"yr":2001.26,"est":0.95,"sz":3},{"yr":2001.06,"est":-0.45,"sz":2},{"yr":2000.62,"est":0.1,"sz":4},{"yr":2001.2,"est":1.4,"sz":2},
{"yr":2001.66,"est":-0.2,"sz":3},{"yr":2001.8,"est":0.6,"sz":2},{"yr":2002.0,"est":-0.85,"sz":4},{"yr":2002.16,"est":0.35,"sz":3},{"yr":2002.34,"est":0.95,"sz":2},{"yr":2001.72,"est":-0.65,"sz":3},{"yr":2002.12,"est":1.35,"sz":5},{"yr":2001.9,"est":0.05,"sz":2},{"yr":2002.26,"est":-1.1,"sz":3},{"yr":2002.06,"est":0.5,"sz":2},{"yr":2001.62,"est":0.8,"sz":4},{"yr":2002.2,"est":-0.35,"sz":2},
{"yr":2002.66,"est":0.8,"sz":2},{"yr":2002.8,"est":-0.3,"sz":3},{"yr":2003.0,"est":0.25,"sz":4},{"yr":2003.16,"est":-0.9,"sz":3},{"yr":2003.34,"est":0.55,"sz":2},{"yr":2002.72,"est":1.1,"sz":3},{"yr":2003.12,"est":-0.15,"sz":5},{"yr":2002.9,"est":-1.2,"sz":2},{"yr":2003.26,"est":0.35,"sz":3},{"yr":2003.06,"est":0.95,"sz":2},{"yr":2002.62,"est":-0.55,"sz":4},{"yr":2003.2,"est":1.45,"sz":2},
{"yr":2003.66,"est":-0.3,"sz":3},{"yr":2003.8,"est":0.7,"sz":2},{"yr":2004.0,"est":0.1,"sz":4},{"yr":2004.16,"est":-0.5,"sz":3},{"yr":2004.34,"est":0.9,"sz":2},{"yr":2003.72,"est":-0.95,"sz":3},{"yr":2004.12,"est":0.35,"sz":5},{"yr":2003.9,"est":1.25,"sz":2},{"yr":2004.26,"est":-1.15,"sz":3},{"yr":2004.06,"est":0.55,"sz":2},{"yr":2003.62,"est":0.0,"sz":4},{"yr":2004.2,"est":-0.25,"sz":2},
{"yr":2004.66,"est":0.35,"sz":2},{"yr":2004.8,"est":-0.6,"sz":3},{"yr":2005.0,"est":0.85,"sz":4},{"yr":2005.16,"est":0.0,"sz":3},{"yr":2005.34,"est":-0.45,"sz":2},{"yr":2004.72,"est":1.15,"sz":3},{"yr":2005.12,"est":-1.05,"sz":5},{"yr":2004.9,"est":0.5,"sz":2},{"yr":2005.26,"est":1.25,"sz":3},{"yr":2005.06,"est":-0.2,"sz":2},{"yr":2004.62,"est":-0.8,"sz":4},{"yr":2005.2,"est":0.6,"sz":2},
{"yr":2005.66,"est":-0.25,"sz":3},{"yr":2005.8,"est":0.55,"sz":2},{"yr":2006.0,"est":-0.8,"sz":4},{"yr":2006.16,"est":0.95,"sz":3},{"yr":2006.34,"est":0.3,"sz":2},{"yr":2005.72,"est":1.1,"sz":3},{"yr":2006.12,"est":-0.45,"sz":5},{"yr":2005.9,"est":0.2,"sz":2},{"yr":2006.26,"est":-1.2,"sz":3},{"yr":2006.06,"est":1.45,"sz":2},{"yr":2005.62,"est":0.7,"sz":4},{"yr":2006.2,"est":-0.05,"sz":2},
{"yr":2006.66,"est":0.25,"sz":2},{"yr":2006.8,"est":-0.4,"sz":3},{"yr":2007.0,"est":1.0,"sz":4},{"yr":2007.16,"est":-0.85,"sz":3},{"yr":2007.34,"est":0.45,"sz":2},{"yr":2006.72,"est":1.25,"sz":3},{"yr":2007.12,"est":-0.1,"sz":5},{"yr":2006.9,"est":0.75,"sz":2},{"yr":2007.26,"est":-1.3,"sz":3},{"yr":2007.06,"est":0.1,"sz":2},{"yr":2006.62,"est":-0.7,"sz":4},{"yr":2007.2,"est":1.35,"sz":2},
{"yr":2007.66,"est":0.6,"sz":3},{"yr":2007.8,"est":-0.5,"sz":2},{"yr":2008.0,"est":0.35,"sz":4},{"yr":2008.16,"est":-0.3,"sz":3},{"yr":2008.34,"est":1.1,"sz":2},{"yr":2007.72,"est":0.95,"sz":3},{"yr":2008.12,"est":0.05,"sz":5},{"yr":2007.9,"est":-0.85,"sz":2},{"yr":2008.26,"est":0.7,"sz":3},{"yr":2008.06,"est":-1.4,"sz":2},{"yr":2007.62,"est":1.25,"sz":4},{"yr":2008.2,"est":-0.05,"sz":2},
{"yr":2008.66,"est":-0.5,"sz":2},{"yr":2008.8,"est":0.2,"sz":3},{"yr":2009.0,"est":0.55,"sz":4},{"yr":2009.16,"est":-0.95,"sz":3},{"yr":2009.34,"est":0.35,"sz":2},{"yr":2008.72,"est":1.2,"sz":3},{"yr":2009.12,"est":-0.2,"sz":5},{"yr":2008.9,"est":0.9,"sz":2},{"yr":2009.26,"est":-1.35,"sz":3},{"yr":2009.06,"est":1.4,"sz":2},{"yr":2008.62,"est":0.0,"sz":4},{"yr":2009.2,"est":-0.6,"sz":2},
{"yr":2009.66,"est":0.3,"sz":3},{"yr":2009.8,"est":-0.6,"sz":2},{"yr":2010.0,"est":0.75,"sz":4},{"yr":2010.16,"est":-0.15,"sz":3},{"yr":2010.34,"est":-1.05,"sz":2},{"yr":2009.72,"est":1.25,"sz":3},{"yr":2010.12,"est":0.1,"sz":5},{"yr":2009.9,"est":-0.35,"sz":2},{"yr":2010.26,"est":0.95,"sz":3},{"yr":2010.06,"est":-0.9,"sz":2},{"yr":2009.62,"est":0.5,"sz":4},{"yr":2010.2,"est":1.6,"sz":2},
{"yr":2010.66,"est":0.6,"sz":2},{"yr":2010.8,"est":-0.4,"sz":3},{"yr":2011.0,"est":0.35,"sz":4},{"yr":2011.16,"est":-0.75,"sz":3},{"yr":2011.34,"est":1.15,"sz":2},{"yr":2010.72,"est":-0.1,"sz":3},{"yr":2011.12,"est":0.85,"sz":5},{"yr":2010.9,"est":1.3,"sz":2},{"yr":2011.26,"est":-0.5,"sz":3},{"yr":2011.06,"est":0.1,"sz":2},{"yr":2010.62,"est":-1.2,"sz":4},{"yr":2011.2,"est":1.6,"sz":2},
{"yr":2011.66,"est":-0.35,"sz":3},{"yr":2011.8,"est":0.4,"sz":2},{"yr":2012.0,"est":0.9,"sz":4},{"yr":2012.16,"est":-0.15,"sz":3},{"yr":2012.34,"est":-0.7,"sz":2},{"yr":2011.72,"est":1.2,"sz":3},{"yr":2012.12,"est":0.25,"sz":5},{"yr":2011.9,"est":-1.3,"sz":2},{"yr":2012.26,"est":0.6,"sz":3},{"yr":2012.06,"est":1.05,"sz":2},{"yr":2011.62,"est":-0.85,"sz":4},{"yr":2012.2,"est":0.15,"sz":2},
{"yr":2012.66,"est":0.75,"sz":2},{"yr":2012.8,"est":-0.3,"sz":3},{"yr":2013.0,"est":0.2,"sz":4},{"yr":2013.16,"est":-0.65,"sz":3},{"yr":2013.34,"est":1.25,"sz":2},{"yr":2012.72,"est":-0.95,"sz":3},{"yr":2013.12,"est":0.5,"sz":5},{"yr":2012.9,"est":0.0,"sz":2},{"yr":2013.26,"est":0.8,"sz":3},{"yr":2013.06,"est":-1.25,"sz":2},{"yr":2012.62,"est":0.45,"sz":4},{"yr":2013.2,"est":1.6,"sz":2},
{"yr":2013.66,"est":0.35,"sz":3},{"yr":2013.8,"est":-0.45,"sz":2},{"yr":2014.0,"est":0.55,"sz":4},{"yr":2014.16,"est":-0.95,"sz":3},{"yr":2014.34,"est":0.15,"sz":2},{"yr":2013.72,"est":1.05,"sz":3},{"yr":2014.12,"est":-0.2,"sz":5},{"yr":2013.9,"est":0.8,"sz":2},{"yr":2014.26,"est":1.45,"sz":3},{"yr":2014.06,"est":-0.6,"sz":2},{"yr":2013.62,"est":-1.1,"sz":4},{"yr":2014.2,"est":0.4,"sz":2},
{"yr":2014.66,"est":-0.2,"sz":2},{"yr":2014.8,"est":0.6,"sz":3},{"yr":2015.0,"est":-0.55,"sz":4},{"yr":2015.16,"est":0.35,"sz":3},{"yr":2015.34,"est":0.9,"sz":2},{"yr":2014.72,"est":-1.15,"sz":3},{"yr":2015.12,"est":0.0,"sz":5},{"yr":2014.9,"est":1.3,"sz":2},{"yr":2015.26,"est":-0.85,"sz":3},{"yr":2015.06,"est":0.75,"sz":2},{"yr":2014.62,"est":0.3,"sz":4},{"yr":2015.2,"est":-0.35,"sz":2},
{"yr":2015.66,"est":0.6,"sz":3},{"yr":2015.8,"est":-0.35,"sz":2},{"yr":2016.0,"est":0.15,"sz":4},{"yr":2016.16,"est":1.2,"sz":3},{"yr":2016.34,"est":-0.2,"sz":2},{"yr":2015.72,"est":-1.05,"sz":3},{"yr":2016.12,"est":0.45,"sz":5},{"yr":2015.9,"est":1.05,"sz":2},{"yr":2016.26,"est":-0.65,"sz":3},{"yr":2016.06,"est":-0.1,"sz":2},{"yr":2015.62,"est":1.35,"sz":4},{"yr":2016.2,"est":0.85,"sz":2},
{"yr":2016.66,"est":0.4,"sz":2},{"yr":2016.8,"est":-0.45,"sz":3},{"yr":2017.0,"est":0.25,"sz":4},{"yr":2017.16,"est":-0.9,"sz":3},{"yr":2017.34,"est":1.2,"sz":2},{"yr":2016.72,"est":0.95,"sz":3},{"yr":2017.12,"est":-0.15,"sz":5},{"yr":2016.9,"est":0.6,"sz":2},{"yr":2017.26,"est":-0.55,"sz":3},{"yr":2017.06,"est":1.45,"sz":2},{"yr":2016.62,"est":-1.0,"sz":4},{"yr":2017.2,"est":0.3,"sz":2},
{"yr":2017.66,"est":-0.25,"sz":3},{"yr":2017.8,"est":0.7,"sz":2},{"yr":2018.0,"est":-0.6,"sz":4},{"yr":2018.16,"est":0.2,"sz":3},{"yr":2018.34,"est":0.95,"sz":2},{"yr":2017.72,"est":-1.25,"sz":3},{"yr":2018.12,"est":0.45,"sz":5},{"yr":2017.9,"est":1.25,"sz":2},{"yr":2018.26,"est":-0.15,"sz":3},{"yr":2018.06,"est":-0.95,"sz":2},{"yr":2017.62,"est":0.9,"sz":4},{"yr":2018.2,"est":1.6,"sz":2},
{"yr":2018.66,"est":0.05,"sz":2},{"yr":2018.8,"est":0.85,"sz":3},{"yr":2019.0,"est":-0.5,"sz":4},{"yr":2019.16,"est":0.4,"sz":3},{"yr":2019.34,"est":-0.15,"sz":2},{"yr":2018.72,"est":-0.85,"sz":3},{"yr":2019.12,"est":1.25,"sz":5},{"yr":2018.9,"est":-1.3,"sz":2},{"yr":2019.26,"est":0.65,"sz":3},{"yr":2019.06,"est":-0.25,"sz":2},{"yr":2018.62,"est":1.0,"sz":4},{"yr":2019.2,"est":1.45,"sz":2},
{"yr":2019.66,"est":-0.3,"sz":3},{"yr":2019.8,"est":0.55,"sz":2},{"yr":2020.0,"est":0.15,"sz":4},{"yr":2020.16,"est":-0.7,"sz":3},{"yr":2020.34,"est":0.6,"sz":2},{"yr":2019.72,"est":1.2,"sz":3},{"yr":2020.12,"est":-1.1,"sz":5},{"yr":2019.9,"est":0.3,"sz":2},{"yr":2020.26,"est":-0.2,"sz":3},{"yr":2020.06,"est":1.35,"sz":2},{"yr":2019.62,"est":-0.95,"sz":4},{"yr":2020.2,"est":0.85,"sz":2}
],
"inc": [
{"yr":2012.85,"est":2.8,"sz":3},{"yr":2018.85,"est":2.63,"sz":4},{"yr":2017.0,"est":2.4,"sz":4},{"yr":2000.2,"est":-0.6,"sz":3},{"yr":2001.1,"est":0.3,"sz":2},{"yr":2003.0,"est":-1.0,"sz":3},{"yr":2004.3,"est":-1.8,"sz":2},{"yr":2005.2,"est":0.5,"sz":3},{"yr":2007.1,"est":-0.4,"sz":4},{"yr":2009.2,"est":0.9,"sz":2},{"yr":2011.0,"est":-0.9,"sz":4},{"yr":2012.2,"est":-1.5,"sz":3},{"yr":2013.3,"est":0.6,"sz":2},{"yr":2014.1,"est":-0.3,"sz":3},{"yr":2014.8,"est":0.7,"sz":4},{"yr":2015.2,"est":1.0,"sz":3},{"yr":2015.7,"est":-0.5,"sz":2},{"yr":2016.1,"est":1.9,"sz":4},{"yr":2016.3,"est":-1.6,"sz":3},{"yr":2017.2,"est":0.2,"sz":2},{"yr":2018.1,"est":0.9,"sz":4},{"yr":2018.9,"est":-0.9,"sz":3},{"yr":2019.1,"est":0.5,"sz":2},{"yr":2019.9,"est":-1.2,"sz":3},{"yr":2020.2,"est":0.3,"sz":2}
],
"fits": [
{"trend":"Decreasing","yr":2000,"fit":0.525,"lo":0.31,"hi":0.74},
{"trend":"Decreasing","yr":2005,"fit":0.408,"lo":0.238,"hi":0.578},
{"trend":"Decreasing","yr":2010,"fit":0.29,"lo":0.14,"hi":0.44},
{"trend":"Decreasing","yr":2015,"fit":0.173,"lo":0.003,"hi":0.343},
{"trend":"Decreasing","yr":2020,"fit":0.055,"lo":-0.15,"hi":0.26},
{"trend":"Increasing","yr":2000,"fit":-0.31,"lo":-0.54,"hi":-0.08},
{"trend":"Increasing","yr":2005,"fit":-0.222,"lo":-0.402,"hi":-0.042},
{"trend":"Increasing","yr":2010,"fit":-0.135,"lo":-0.295,"hi":0.025},
{"trend":"Increasing","yr":2015,"fit":-0.047,"lo":-0.227,"hi":0.133},
{"trend":"Increasing","yr":2020,"fit":0.04,"lo":-0.18,"hi":0.26},
{"trend":"Stable","yr":2000,"fit":0.1,"lo":-0.105,"hi":0.305},
{"trend":"Stable","yr":2005,"fit":0.091,"lo":-0.069,"hi":0.251},
{"trend":"Stable","yr":2010,"fit":0.083,"lo":-0.057,"hi":0.223},
{"trend":"Stable","yr":2015,"fit":0.074,"lo":-0.086,"hi":0.234},
{"trend":"Stable","yr":2020,"fit":0.065,"lo":-0.135,"hi":0.265}
]
},
"layer": [
{"data": {"name": "dec"}, "mark": {"type": "circle", "opacity": 1, "fillOpacity": 0.17, "strokeOpacity": 0.17, "strokeWidth": 1},
 "encoding": {
  "x": {"field": "yr", "type": "quantitative", "title": "Year", "scale": {"domain": [1999.02, 2020.85], "nice": false, "zero": false}, "axis": {"values": [2000, 2005, 2010, 2015, 2020], "format": "d"}},
  "y": {"field": "est", "type": "quantitative", "title": "Demographic estimate", "scale": {"domain": [-3.82, 4.57], "nice": false, "zero": false}, "axis": {"values": [-2, 0, 2, 4], "labelExpr": "'' + datum.value", "titleFontSize": 24, "titleY": 234}},
  "size": {"field": "sz", "type": "quantitative", "scale": {"domain": [1, 5], "range": [110, 400]}, "legend": null},
  "fill": {"datum": "Decreasing", "type": "nominal", "scale": {"domain": ["Decreasing", "Increasing", "Stable"], "range": ["#57F157", "#FFC500", "#8888FF"]}},
  "stroke": {"datum": "Decreasing", "type": "nominal", "scale": {"domain": ["Stable", "Increasing", "Decreasing"], "range": ["#8888FF", "#FFC500", "#57F157"]}}
 }},
{"data": {"name": "sta"}, "mark": {"type": "circle", "opacity": 1, "fillOpacity": 0.16, "strokeOpacity": 0.16, "strokeWidth": 1},
 "encoding": {
  "x": {"field": "yr", "type": "quantitative", "title": "Year"},
  "y": {"field": "est", "type": "quantitative", "title": "Demographic estimate"},
  "size": {"field": "sz", "type": "quantitative", "scale": {"domain": [1, 5], "range": [110, 400]}, "legend": null},
  "fill": {"datum": "Stable", "type": "nominal"},
  "stroke": {"datum": "Stable", "type": "nominal"}
 }},
{"data": {"name": "inc"}, "mark": {"type": "circle", "opacity": 1, "fillOpacity": 0.16, "strokeOpacity": 0.16, "strokeWidth": 1},
 "encoding": {
  "x": {"field": "yr", "type": "quantitative", "title": "Year"},
  "y": {"field": "est", "type": "quantitative", "title": "Demographic estimate"},
  "size": {"field": "sz", "type": "quantitative", "scale": {"domain": [1, 5], "range": [110, 400]}, "legend": null},
  "fill": {"datum": "Increasing", "type": "nominal"},
  "stroke": {"datum": "Increasing", "type": "nominal"}
 }},
{"data": {"name": "fits"}, "transform": [{"filter": "datum.trend === 'Decreasing'"}],
 "mark": {"type": "area", "opacity": 0.4},
 "encoding": {
  "x": {"field": "yr", "type": "quantitative", "title": "Year"},
  "y": {"field": "lo", "type": "quantitative", "title": "Demographic estimate"},
  "y2": {"field": "hi"},
  "fill": {"field": "trend", "type": "nominal", "legend": {"title": "Population trend", "orient": "none", "legendX": 29, "legendY": -65.5, "direction": "horizontal", "titleOrient": "left", "titleAnchor": "middle", "titleBaseline": "middle", "titleFontSize": 20.5, "titleFontWeight": "normal", "titleColor": "#000", "titlePadding": 7.5, "labelFontSize": 16.5, "labelColor": "#000", "labelOffset": 7.65, "columnPadding": 7.65, "symbolType": "M-0.82,-1H0.82V1H-0.82Z", "symbolSize": 1369, "symbolStrokeWidth": 4, "symbolStrokeColor": "transparent", "symbolOpacity": 0.4,
    "encode": {"symbols": {"update": {"opacity": {"value": 0.4}, "fillOpacity": {"value": 1}, "strokeWidth": {"value": 4}, "stroke": {"value": "transparent"}}}}}}
 }},
{"data": {"name": "fits"}, "transform": [{"filter": "datum.trend === 'Decreasing'"}],
 "mark": {"type": "line", "strokeWidth": 4},
 "encoding": {
  "x": {"field": "yr", "type": "quantitative", "title": "Year"},
  "y": {"field": "fit", "type": "quantitative", "title": "Demographic estimate"},
  "stroke": {"field": "trend", "type": "nominal", "legend": {"values": ["Decreasing", "Increasing", "Stable"], "title": "Population trend", "orient": "none", "legendX": 29, "legendY": -65.5, "direction": "horizontal", "titleOrient": "left", "titleAnchor": "middle", "titleBaseline": "middle", "titleFontSize": 20.5, "titleFontWeight": "normal", "titleColor": "transparent", "titlePadding": 7.5, "labelFontSize": 16.5, "labelColor": "transparent", "labelOffset": 7.65, "columnPadding": 7.65, "symbolType": "M-0.82,0H0.82", "symbolSize": 1369, "symbolStrokeWidth": 4, "symbolFillColor": "transparent", "symbolOpacity": 1,
    "encode": {"symbols": {"update": {"opacity": {"value": 1}, "strokeOpacity": {"value": 1}, "strokeWidth": {"value": 4}, "fill": {"value": "transparent"}}}}}}
 }},
{"data": {"name": "fits"}, "transform": [{"filter": "datum.trend === 'Increasing'"}],
 "mark": {"type": "area", "opacity": 0.4},
 "encoding": {
  "x": {"field": "yr", "type": "quantitative", "title": "Year"},
  "y": {"field": "lo", "type": "quantitative", "title": "Demographic estimate"},
  "y2": {"field": "hi"},
  "fill": {"field": "trend", "type": "nominal"}
 }},
{"data": {"name": "fits"}, "transform": [{"filter": "datum.trend === 'Increasing'"}],
 "mark": {"type": "line", "strokeWidth": 4},
 "encoding": {
  "x": {"field": "yr", "type": "quantitative", "title": "Year"},
  "y": {"field": "fit", "type": "quantitative", "title": "Demographic estimate"},
  "stroke": {"field": "trend", "type": "nominal"}
 }},
{"data": {"name": "fits"}, "transform": [{"filter": "datum.trend === 'Stable'"}],
 "mark": {"type": "area", "opacity": 0.4},
 "encoding": {
  "x": {"field": "yr", "type": "quantitative", "title": "Year"},
  "y": {"field": "lo", "type": "quantitative", "title": "Demographic estimate"},
  "y2": {"field": "hi"},
  "fill": {"field": "trend", "type": "nominal"}
 }},
{"data": {"name": "fits"}, "transform": [{"filter": "datum.trend === 'Stable'"}],
 "mark": {"type": "line", "strokeWidth": 4},
 "encoding": {
  "x": {"field": "yr", "type": "quantitative", "title": "Year"},
  "y": {"field": "fit", "type": "quantitative", "title": "Demographic estimate"},
  "stroke": {"field": "trend", "type": "nominal"}
 }}
],
"config": {
 "view": {"stroke": null},
 "font": "Liberation Sans",
 "axis": {"grid": false, "domainColor": "#000", "domainWidth": 1.2, "tickColor": "#333", "tickWidth": 1.1, "tickSize": 5, "labelFontSize": 16, "labelColor": "#4D4D4D", "labelPadding": 2, "titleFontSize": 20, "titleFontWeight": "normal", "titleColor": "#000"},
 "axisX": {"titlePadding": 1},
 "axisY": {"titlePadding": 8}
}
}
